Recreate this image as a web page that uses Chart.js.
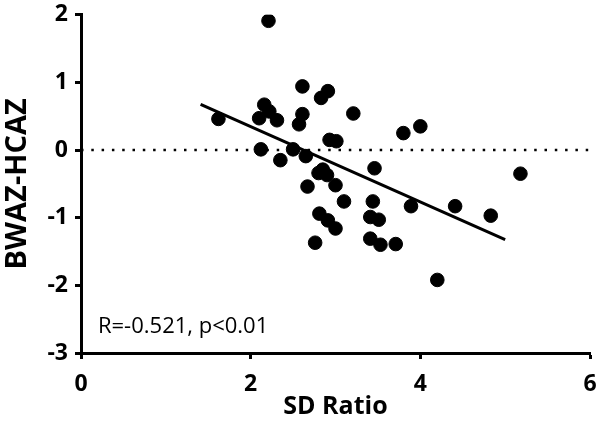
<!DOCTYPE html>
<html>
<head>
<meta charset="utf-8">
<script src="https://cdn.jsdelivr.net/npm/chart.js@4.4.1/dist/chart.umd.min.js"></script>
<style>
  html, body { margin: 0; padding: 0; background: #fff; }
  #wrap { width: 604px; height: 425px; }
</style>
</head>
<body>
<div id="wrap"><canvas id="scatter" width="604" height="425"></canvas></div>
<script>
// values
const sdRatio = [
  1.62, 2.10, 2.12, 2.16, 2.21, 2.22, 2.31, 2.35, 2.50, 2.57,
  2.61, 2.61, 2.65, 2.67, 2.76, 2.80, 2.81, 2.83, 2.85, 2.90,
  2.91, 2.91, 2.93, 3.00, 3.00, 3.01, 3.10, 3.21, 3.41, 3.41,
  3.44, 3.46, 3.51, 3.53, 3.71, 3.80, 3.89, 4.00, 4.20, 4.41,
  4.83, 5.18
];
const bwazHcaz = [
  0.46, 0.47, 0.01, 0.67, 1.91, 0.57, 0.44, -0.15, 0.01, 0.38,
  0.94, 0.53, -0.09, -0.54, -1.37, -0.34, -0.94, 0.77, -0.29, -0.37,
  0.87, -1.04, 0.15, -0.52, -1.16, 0.13, -0.76, 0.54, -0.99, -1.31,
  -0.76, -0.27, -1.03, -1.40, -1.39, 0.25, -0.83, 0.35, -1.92, -0.83,
  -0.97, -0.35
];
const fitX = [1.41, 5.0];
const fitY = [0.676, -1.325];
const zeroX = [0, 6];
const zeroY = [0, 0];
const xTicks = [0, 2, 4, 6];
const yTicks = [-3, -2, -1, 0, 1, 2];
const statText = 'R=-0.521, p<0.01';
const statPos = { x: 0.2, y: -2.70 };

const pts = sdRatio.map((x, i) => ({ x: x, y: bwazHcaz[i] }));
const fit = fitX.map((x, i) => ({ x: x, y: fitY[i] }));
const zero = zeroX.map((x, i) => ({ x: x, y: zeroY[i] }));

const FONT = "'Open Sans', 'Liberation Sans', sans-serif";

// writes the R / p note inside the plot
const statNote = {
  id: 'statNote',
  afterDatasetsDraw(chart) {
    const { ctx, scales } = chart;
    ctx.save();
    ctx.font = '22px ' + FONT;
    ctx.fillStyle = '#000';
    ctx.textAlign = 'left';
    ctx.textBaseline = 'alphabetic';
    ctx.fillText(statText, scales.x.getPixelForValue(statPos.x), scales.y.getPixelForValue(statPos.y));
    ctx.restore();
  }
};

new Chart(document.getElementById('scatter'), {
  type: 'scatter',
  data: {
    datasets: [
      {
        type: 'line',
        data: zero,
        borderColor: '#000',
        borderWidth: 2.5,
        borderDash: [2.5, 7.8],
        pointRadius: 0,
        fill: false
      },
      {
        type: 'line',
        data: fit,
        borderColor: '#000',
        borderWidth: 3,
        pointRadius: 0,
        fill: false
      },
      {
        data: pts,
        backgroundColor: '#000',
        borderColor: '#000',
        pointRadius: 6.8,
        pointHoverRadius: 6.8
      }
    ]
  },
  options: {
    responsive: false,
    animation: false,
    events: [],
    layout: { padding: { left: 0, right: 14, top: 14.7, bottom: 0 } },
    plugins: { legend: { display: false }, tooltip: { enabled: false } },
    scales: {
      x: {
        type: 'linear',
        min: 0, max: 6,
        afterBuildTicks: s => { s.ticks = xTicks.map(v => ({ value: v })); },
        afterFit: s => { s.height = 72; s.paddingLeft = 0; s.paddingRight = 0; },
        border: { display: true, color: '#000', width: 3 },
        grid: { drawOnChartArea: false, drawTicks: true, tickLength: 6, tickWidth: 3, tickColor: '#000' },
        ticks: { color: '#000', padding: 12, maxRotation: 0, font: { family: FONT, size: 23, weight: 'bold' } },
        title: {
          display: true, text: 'SD Ratio', color: '#000',
          font: { family: FONT, size: 25, weight: 'bold' },
          padding: { top: 0, bottom: 3 }
        }
      },
      y: {
        type: 'linear',
        min: -3, max: 2,
        afterBuildTicks: s => { s.ticks = yTicks.map(v => ({ value: v })); },
        afterFit: s => { s.width = 81; s.paddingTop = 0; s.paddingBottom = 0; },
        border: { display: true, color: '#000', width: 3 },
        grid: { drawOnChartArea: false, drawTicks: true, tickLength: 6, tickWidth: 3, tickColor: '#000' },
        ticks: { color: '#000', padding: 7, font: { family: FONT, size: 23, weight: 'bold' } },
        title: {
          display: true, text: 'BWAZ-HCAZ', color: '#000',
          font: { family: FONT, size: 29, weight: 'bold' },
          padding: { top: 0, bottom: 0 }
        }
      }
    }
  },
  plugins: [statNote]
});
</script>
</body>
</html>
